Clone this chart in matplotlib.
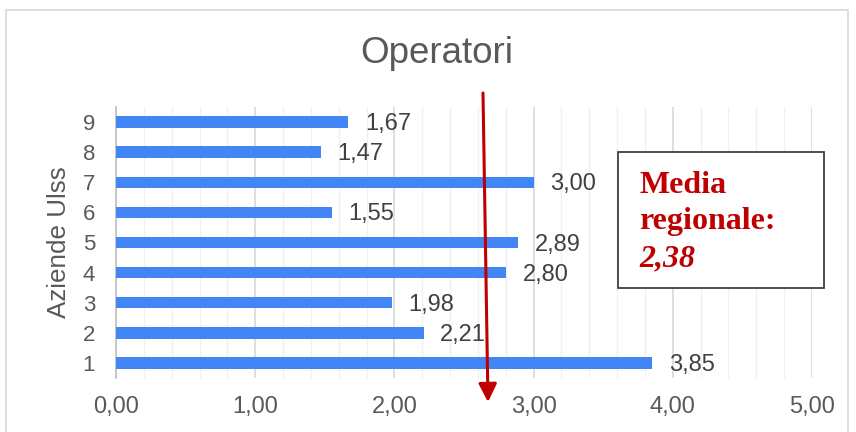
import matplotlib
matplotlib.use('Agg')
import matplotlib.pyplot as plt
from matplotlib.patches import Rectangle, FancyArrowPatch
from matplotlib.ticker import MultipleLocator, FuncFormatter

plt.rcParams['font.family'] = ['Liberation Sans', 'DejaVu Sans']

# data
aziende = [1, 2, 3, 4, 5, 6, 7, 8, 9]
operatori = [3.85, 2.21, 1.98, 2.80, 2.89, 1.55, 3.00, 1.47, 1.67]
media_regionale = 2.38

W, H = 856, 432
fig = plt.figure(figsize=(W / 100, H / 100), dpi=100)
ax = fig.add_axes([116 / W, 1 - 378 / H, (812 - 116) / W, (378 - 107) / H])

ax.barh(aziende, operatori, height=0.38, color='#4285F4', zorder=3)
for y, v in zip(aziende, operatori):
    ax.annotate(f"{v:.2f}".replace('.', ','), (v, y), xytext=(12, -1.5),
                textcoords='offset points', va='center', ha='left',
                fontsize=17, color='#404040')

ax.set_xlim(0, 5)
ax.set_ylim(0.5, 9.5)
ax.set_yticks(aziende)
ax.xaxis.set_major_locator(MultipleLocator(1))
ax.xaxis.set_minor_locator(MultipleLocator(0.2))
ax.xaxis.set_major_formatter(FuncFormatter(lambda x, p: f"{x:.2f}".replace('.', ',')))
ax.grid(axis='x', which='major', color='#d9d9d9', lw=1.2, zorder=0)
ax.grid(axis='x', which='minor', color='#f0f0f0', lw=1.0, zorder=0)
ax.tick_params(axis='x', which='both', length=0, pad=13, labelsize=17, labelcolor='#595959')
ax.tick_params(axis='y', length=0, pad=15, labelsize=16, labelcolor='#595959')
for s in ['top', 'right', 'bottom']:
    ax.spines[s].set_visible(False)
ax.spines['left'].set_color('#bfbfbf')
ax.spines['left'].set_linewidth(1.2)

fig.text(437 / W, 1 - 63 / H, 'Operatori', ha='center', va='baseline',
         fontsize=26.5, color='#595959')
fig.text(59 / W, 1 - 242 / H, 'Aziende Ulss', rotation=90, ha='center',
         va='center', fontsize=18.7, color='#595959')

# outer chart border
fig.patches.append(Rectangle((6 / W, 1 - 440 / H), (848 - 6) / W, 430 / H,
                             transform=fig.transFigure, fill=False,
                             edgecolor='#d9d9d9', lw=1.2, zorder=0))

# text box
fig.patches.append(Rectangle((618 / W, 1 - 288 / H), (824 - 618) / W, (288 - 152) / H,
                             transform=fig.transFigure, facecolor='white',
                             edgecolor='#404040', lw=1.3, zorder=5))
red = '#C00000'
fig.text(639 / W, 1 - 193 / H, 'Media', fontsize=23, color=red, weight='bold',
         family='Liberation Serif', va='baseline', zorder=6)
fig.text(639 / W, 1 - 229 / H, 'regionale:', fontsize=23, color=red, weight='bold',
         family='Liberation Serif', va='baseline', zorder=6)
fig.text(639 / W, 1 - 266 / H, f"{media_regionale:.2f}".replace('.', ','), fontsize=23,
         color=red, weight='bold', style='italic', family='Liberation Serif',
         va='baseline', zorder=6)

# arrow
fig.patches.append(FancyArrowPatch((483 / W, 1 - 93 / H), (488 / W, 1 - 402 / H),
                                   transform=fig.transFigure,
                                   arrowstyle='-|>,head_length=1.0,head_width=0.5',
                                   mutation_scale=11, color=red, lw=2.2,
                                   shrinkA=0, shrinkB=0, zorder=7))

fig.savefig('out.png', dpi=100)
